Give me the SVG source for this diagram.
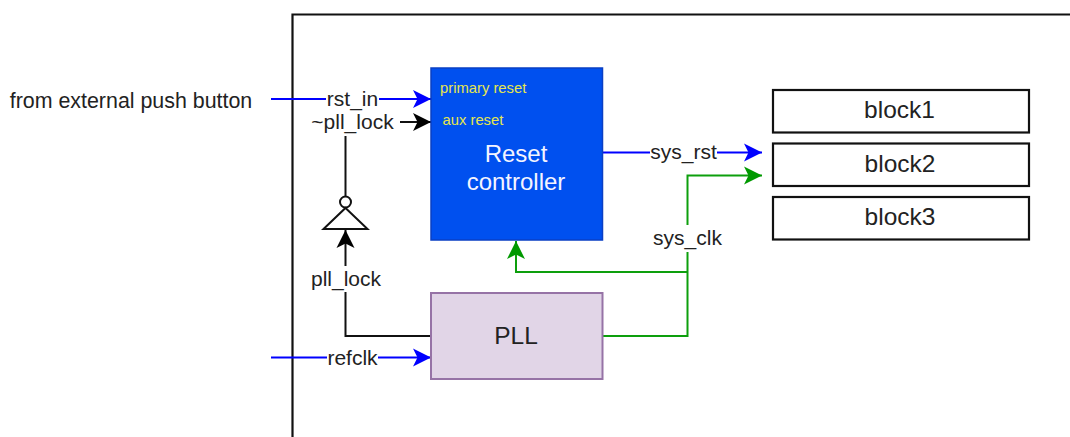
<svg xmlns="http://www.w3.org/2000/svg" width="1070" height="437" viewBox="0 0 1070 437">
<defs>
<marker id="ab" markerUnits="userSpaceOnUse" markerWidth="20" markerHeight="20" refX="18" refY="10" orient="auto" overflow="visible"><path d="M0,1 L18,10 L0,19 L4.5,10 Z" fill="#0000ff"/></marker>
<marker id="ak" markerUnits="userSpaceOnUse" markerWidth="20" markerHeight="20" refX="18" refY="10" orient="auto" overflow="visible"><path d="M0,1 L18,10 L0,19 L4.5,10 Z" fill="#000"/></marker>
<marker id="ag" markerUnits="userSpaceOnUse" markerWidth="20" markerHeight="20" refX="18" refY="10" orient="auto" overflow="visible"><path d="M0,1 L18,10 L0,19 L4.5,10 Z" fill="#009900"/></marker>
</defs>
<style>
text{font-family:"Liberation Sans",Arial,sans-serif;fill:#222;text-anchor:middle}
.l{font-size:21px}
.n{font-size:24.5px}
.y{font-size:14.800px;fill:#e6e64d;text-anchor:start}
.w{font-size:24px;fill:#f4f4ff}
.c{fill:none;stroke-width:2}
.b{stroke:#0000ff}.k{stroke:#111}.g{stroke:#0d9f0d}
.blk{fill:#fff;stroke:#111;stroke-width:2.200}
</style>
<rect width="1070" height="437" fill="#fff"/>
<path id="frame" d="M292.500 437V14.500H1070" fill="none" stroke="#111" stroke-width="2.200"/>
<g id="connectors">
<path class="c b" d="M271 99H326"/><path class="c b" d="M379 99H431" marker-end="url(#ab)"/>
<path class="c k" d="M400 122H431" marker-end="url(#ak)"/>
<path class="c k" d="M345.500 136V197"/>
<path class="c k" d="M345.500 266V230" marker-end="url(#ak)"/>
<path class="c k" d="M345.500 292V336H431"/>
<path class="c b" d="M271 357.500H327"/><path class="c b" d="M378 357.500H431" marker-end="url(#ab)"/>
<path class="c b" d="M603 152.500H650"/><path class="c b" d="M717 152.500H762" marker-end="url(#ab)"/>
<path class="c g" d="M603 336H687.500V252"/>
<path class="c g" d="M687.500 225V175.500H762" marker-end="url(#ag)"/>
<path class="c g" d="M687.500 272H516V241" marker-end="url(#ag)"/>
</g>
<g id="inverter">
<circle cx="345.500" cy="202" r="5.500" fill="#fff" stroke="#111" stroke-width="2"/>
<path d="M345.500 208L367.500 229H323.500Z" fill="#fff" stroke="#111" stroke-width="2"/>
</g>
<g id="reset"><rect x="431" y="68" width="171.500" height="172" fill="#0050ef" stroke="#0a3fc4" stroke-width="1.500"/>
<text class="y" x="440" y="93">primary reset</text><text class="y" x="442.500" y="125">aux reset</text>
<text class="w" x="516" y="162">Reset</text><text class="w" x="516" y="190">controller</text></g>
<g id="pll"><rect x="431" y="293" width="171.500" height="86" fill="#e1d5e7" stroke="#9673a6" stroke-width="2"/><text class="n" x="516" y="344">PLL</text></g>
<g id="block1"><rect class="blk" x="773" y="90" width="256" height="42.500"/><text class="n" x="899.500" y="118">block1</text></g>
<g id="block2"><rect class="blk" x="773" y="143.500" width="256" height="42.500"/><text class="n" x="900" y="172">block2</text></g>
<g id="block3"><rect class="blk" x="773" y="197" width="256" height="42.500"/><text class="n" x="900" y="225">block3</text></g>
<g id="labels">
<text class="l" x="131" y="108" style="font-size:21.400px">from external push button</text>
<text class="l" x="352.500" y="106">rst_in</text>
<text class="l" x="352.500" y="129">~pll_lock</text>
<text class="l" x="346" y="286">pll_lock</text>
<text class="l" x="352.500" y="365">refclk</text>
<text class="l" x="683.500" y="159">sys_rst</text>
<text class="l" x="687.500" y="245">sys_clk</text>
</g>
</svg>
